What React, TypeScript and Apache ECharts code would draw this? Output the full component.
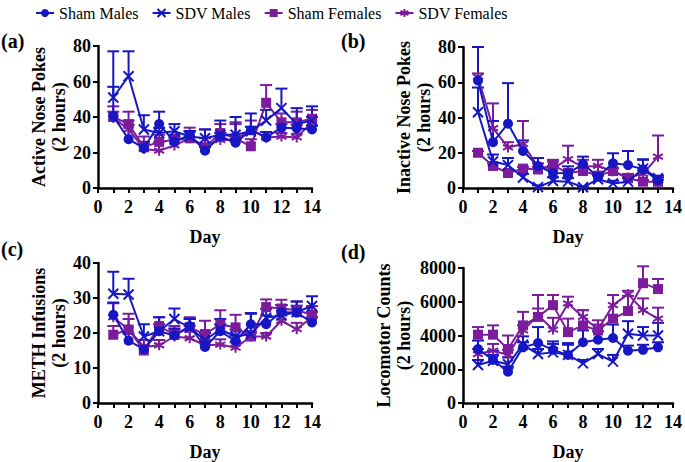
import React, { useEffect, useRef } from "react";
import * as echarts from "echarts";

// ---------- data ----------
const daysAC = [1, 2, 3, 4, 5, 6, 7, 8, 9, 10, 11, 12, 13, 14];
const daysBD = [1, 2, 3, 4, 5, 6, 7, 8, 9, 10, 11, 12, 13];
const seriesNames = ["Sham Males", "SDV Males", "Sham Females", "SDV Females"];

// (a) Active nose pokes
const activeShamM = [40.5, 27.5, 22.5, 36, 26, 30, 21, 29, 25.5, 32.5, 28.5, 34, 33.6, 33];
const activeShamMErr = [16.5, 8, 3.5, 7, 3, 2, 2, 2, 2, 2, 3, 2, 2, 2];
const activeSdvM = [51, 63, 33, 31, 32, 29, 28, 30, 30, 32, 38, 45, 36, 38];
const activeSdvMErr = [26, 14, 8, 3, 4, 3, 5, 8, 10, 10, 6, 11, 9, 8];
const activeShamF = [40, 36, 23, 26, 27, 28, 23, 31, 28, 23.5, 48, 37, 37, 39];
const activeShamFErr = [6, 7, 6, 4, 3, 6, 10, 5, 9, 4, 10, 5, 6, 5];
const activeSdvF = [39.5, 33, 22, 21, 24, 28, 24, 27, 27, 33, 28.5, 29, 28.5, 37];
const activeSdvFErr = [3.5, 5, 3, 5, 4, 4, 4, 4, 9, 5, 3, 2, 2, 3];

// (b) Inactive nose pokes
const inactiveShamM = [61, 26, 36.5, 21, 12.5, 8.5, 8.3, 13.6, 6.4, 14, 13, 10.6, 4.5];
const inactiveShamMErr = [19, 12, 23, 6, 4.5, 4, 4, 4.2, 1.5, 5.7, 8, 5.7, 1.5];
const inactiveSdvM = [43, 15, 13, 6, 0.5, 4, 3.6, 0.4, 5, 2.6, 3.6, 11, 5.5];
const inactiveSdvMErr = [14, 4, 4, 2, 1, 2, 2, 0.5, 2, 1.5, 2, 5, 1.5];
const inactiveShamF = [20, 12.5, 8.5, 11, 10.5, 13, 8.5, 9.6, 7, 9.6, 5.5, 3.6, 3.5];
const inactiveShamFErr = [1, 1.5, 1.5, 1, 1.5, 3, 1.5, 2, 1, 1.5, 1.5, 1, 1];
const inactiveSdvF = [63, 34, 23, 25, 12, 11, 16.4, 12, 12.5, 9.5, 6, 8, 17.8];
const inactiveSdvFErr = [2, 14, 3, 13, 2, 4, 7.6, 4, 3.5, 2, 2, 2, 12];

// (c) METH infusions
const infShamM = [25.2, 17.8, 15.3, 20.5, 19.3, 22, 16, 20.5, 17.7, 22.5, 22.5, 26, 25.8, 23];
const infShamMErr = [3.5, 2, 1, 2, 2, 2, 1.5, 2, 1.5, 3, 2.5, 2, 2, 1.5];
const infSdvM = [31.2, 31, 19, 20.5, 24, 21.5, 18, 21, 19, 19.7, 24.4, 25, 26, 27.7];
const infSdvMErr = [6.3, 4.5, 3.5, 4, 3, 2.5, 2, 3, 2, 6, 2.5, 3, 3, 2.8];
const infShamF = [19.5, 21, 15, 22, 19.5, 21.5, 19.7, 22.5, 21.6, 19, 27.4, 27, 26.5, 25.2];
const infShamFErr = [2.5, 3, 1.5, 2.5, 2.5, 3, 3.8, 4, 3.6, 1.5, 2.2, 2.5, 2.5, 2.5];
const infSdvF = [24.5, 21, 16, 16.5, 19, 18.5, 16.5, 16.7, 15.8, 19, 19, 23.5, 21.1, 24.5];
const infSdvFErr = [4, 4.5, 2, 1.5, 2, 3.5, 1.5, 1.5, 1.5, 1, 1, 1.5, 1.8, 1.5];

// (d) Locomotor counts
const locoShamM = [3200, 2550, 1850, 3300, 3550, 3150, 2850, 3600, 3750, 3850, 3100, 3150, 3300];
const locoShamMErr = [500, 300, 300, 300, 950, 500, 700, 700, 500, 800, 300, 300, 300];
const locoSdvM = [2250, 2500, 2300, 3450, 2900, 3000, 2850, 2350, 2900, 2450, 4100, 4000, 4000];
const locoSdvMErr = [300, 600, 400, 500, 300, 500, 600, 200, 300, 400, 750, 500, 750];
const locoShamF = [4050, 4050, 3200, 4600, 5100, 5800, 4200, 4600, 4300, 5000, 5450, 7100, 6750];
const locoShamFErr = [450, 550, 800, 800, 1300, 600, 800, 900, 600, 1400, 900, 1000, 600];
const locoSdvF = [2900, 3100, 2850, 4300, 5200, 4350, 5900, 5100, 4350, 5800, 6450, 5500, 5000];
const locoSdvFErr = [300, 400, 300, 300, 400, 700, 400, 400, 300, 600, 200, 700, 650];

// y-axis ranges
const yMaxes = [80, 80, 40, 8000];
const yIntervals = [20, 20, 10, 2000];
const yTitles = [
  "Active Nose Pokes\n(2 hours)",
  "Inactive Nose Pokes\n(2 hours)",
  "METH Infusions\n(2 hours)",
  "Locomotor Counts\n(2 hours)",
];
const panelLabels = ["(a)", "(b)", "(c)", "(d)"];

// ---------- styling ----------
const BLUE = "#1616c4";
const PURPLE = "#7b1c9c";
const FONT = "Liberation Serif";
const XSYM = "path://M0,0L10,10M10,0L0,10";
const STARSYM = "path://M5,0L5,10M0.67,2.5L9.33,7.5M0.67,7.5L9.33,2.5";

const grids = [
  { left: 98, top: 46, width: 214, height: 142 },
  { left: 463, top: 47, width: 210, height: 141 },
  { left: 98, top: 263, width: 214, height: 142 },
  { left: 463, top: 268, width: 210, height: 137 },
];
const nameGaps = [24, 29, 24, 49];
const labelPos = [
  [1, 42],
  [341, 42],
  [1, 250],
  [341, 253],
];

const styles = [
  { color: BLUE, symbol: "circle", size: 10, bw: 0 },
  { color: BLUE, symbol: XSYM, size: 10, bw: 2 },
  { color: PURPLE, symbol: "rect", size: 10, bw: 0 },
  { color: PURPLE, symbol: STARSYM, size: 10, bw: 2 },
];

const panelData = [
  { days: daysAC, means: [activeShamM, activeSdvM, activeShamF, activeSdvF], errs: [activeShamMErr, activeSdvMErr, activeShamFErr, activeSdvFErr] },
  { days: daysBD, means: [inactiveShamM, inactiveSdvM, inactiveShamF, inactiveSdvF], errs: [inactiveShamMErr, inactiveSdvMErr, inactiveShamFErr, inactiveSdvFErr] },
  { days: daysAC, means: [infShamM, infSdvM, infShamF, infSdvF], errs: [infShamMErr, infSdvMErr, infShamFErr, infSdvFErr] },
  { days: daysBD, means: [locoShamM, locoSdvM, locoShamF, locoSdvF], errs: [locoShamMErr, locoSdvMErr, locoShamFErr, locoSdvFErr] },
];

function buildOption() {
  const series: any[] = [];
  const drawOrder = [3, 2, 1, 0];
  panelData.forEach((p, gi) => {
    drawOrder.forEach((si, k) => {
      const st = styles[si];
      const errData = p.days.map((d, i) => [d, p.means[si][i], p.errs[si][i]]);
      series.push({
        type: "custom",
        name: seriesNames[si] + " err",
        xAxisIndex: gi,
        yAxisIndex: gi,
        z: 2 + k,
        silent: true,
        encode: { x: 0, y: 1 },
        data: errData,
        renderItem: (params: any, api: any) => {
          const x = api.value(0);
          const y = api.value(1);
          const e = api.value(2);
          const p0 = api.coord([x, y]);
          const p1 = api.coord([x, y + e]);
          return {
            type: "group",
            children: [
              { type: "line", shape: { x1: p0[0], y1: p0[1], x2: p1[0], y2: p1[1] }, style: { stroke: st.color, lineWidth: 2 } },
              { type: "line", shape: { x1: p1[0] - 6, y1: p1[1], x2: p1[0] + 6, y2: p1[1] }, style: { stroke: st.color, lineWidth: 2 } },
            ],
          };
        },
      });
      series.push({
        type: "line",
        name: seriesNames[si],
        xAxisIndex: gi,
        yAxisIndex: gi,
        z: 10 + k,
        data: p.days.map((d, i) => [d, p.means[si][i]]),
        symbol: st.symbol,
        symbolSize: st.size,
        showAllSymbol: true,
        lineStyle: { color: st.color, width: 2 },
        itemStyle: { color: st.color, borderColor: st.color, borderWidth: st.bw },
        emphasis: { disabled: true },
      });
    });
  });

  return {
    animation: false,
    backgroundColor: "#ffffff",
    textStyle: { fontFamily: FONT },
    legend: {
      data: seriesNames,
      left: 30,
      top: 0,
      itemWidth: 18,
      itemHeight: 10,
      itemGap: 13,
      textStyle: { fontFamily: FONT, fontSize: 16, color: "#000" },
      selectedMode: false,
    },
    grid: grids.map((g) => ({ ...g })),
    xAxis: grids.map((g, i) => ({
      type: "value",
      gridIndex: i,
      min: 0,
      max: 14,
      interval: 1,
      name: "Day",
      nameLocation: "middle",
      nameGap: 40,
      nameTextStyle: { fontFamily: FONT, fontSize: 18, fontWeight: "bold", color: "#000", verticalAlign: "top" },
      axisLine: { show: true, onZero: false, lineStyle: { color: "#000", width: 2.5 } },
      axisTick: { show: true, length: 5, lineStyle: { color: "#000", width: 2 } },
      axisLabel: {
        fontFamily: FONT,
        fontSize: 18,
        fontWeight: "bold",
        color: "#000",
        margin: 10,
        formatter: (v: number) => (v % 2 === 0 ? String(v) : ""),
      },
      splitLine: { show: false },
    })),
    yAxis: grids.map((g, i) => ({
      type: "value",
      gridIndex: i,
      min: 0,
      max: yMaxes[i],
      interval: yIntervals[i],
      name: yTitles[i],
      nameLocation: "middle",
      nameRotate: 90,
      nameGap: nameGaps[i],
      nameTextStyle: { fontFamily: FONT, fontSize: 18, fontWeight: "bold", color: "#000", lineHeight: 20 },
      axisLine: { show: true, onZero: false, lineStyle: { color: "#000", width: 2.5 } },
      axisTick: { show: true, length: 5, lineStyle: { color: "#000", width: 2 } },
      axisLabel: {
        fontFamily: FONT,
        fontSize: 18,
        fontWeight: "bold",
        color: "#000",
        margin: 7,
        formatter: (v: number) => String(v),
      },
      splitLine: { show: false },
    })),
    graphic: panelLabels.map((t, i) => ({
      type: "text",
      left: labelPos[i][0],
      top: labelPos[i][1] - 11,
      style: { text: t, fontFamily: FONT, fontSize: 20, fontWeight: "bold", fill: "#000" },
    })),
    series,
  };
}

export default function App() {
  const ref = useRef<HTMLDivElement>(null);
  useEffect(() => {
    if (!ref.current) return;
    const chart = echarts.init(ref.current, null, { renderer: "svg" });
    chart.setOption(buildOption() as any);
    return () => chart.dispose();
  }, []);
  return (
    <div
      ref={ref}
      style={{ position: "absolute", left: 0, top: 0, width: 685, height: 462, background: "#fff" }}
    />
  );
}
